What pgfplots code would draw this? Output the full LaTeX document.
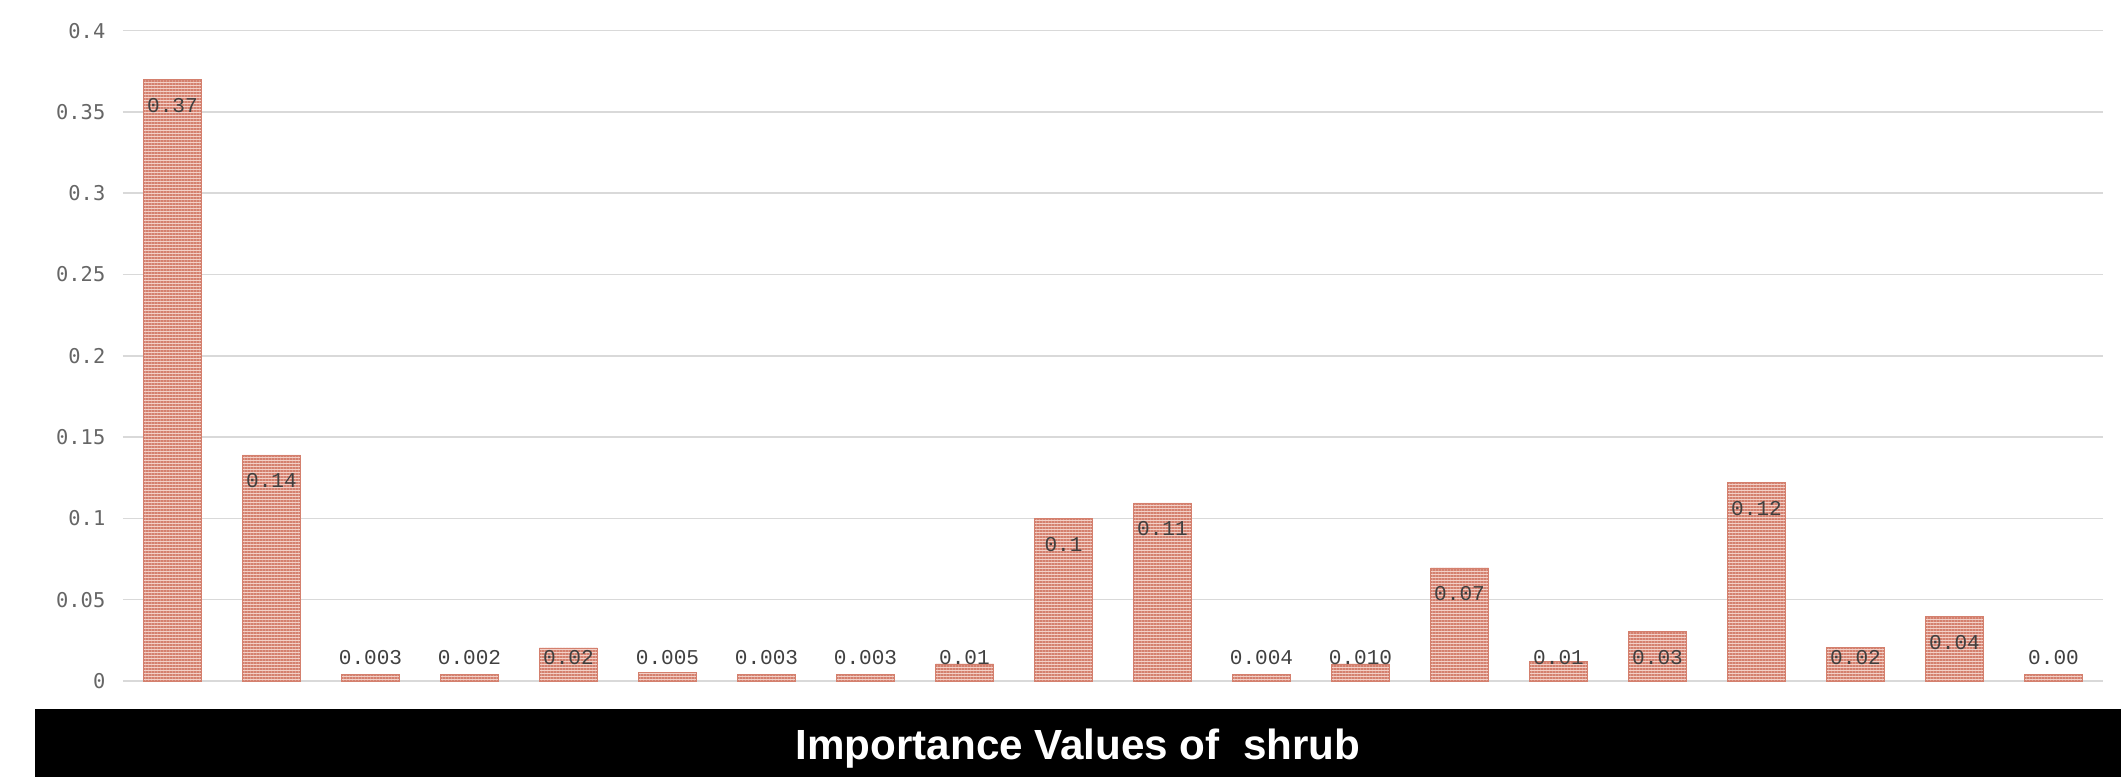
\documentclass[border=0pt]{standalone}
\usepackage{pgfplots}
\pgfplotsset{compat=1.18}
\usepackage{pgfplotstable}
\usetikzlibrary{patterns.meta}
\usepackage{fontspec}
\setmainfont{Liberation Sans}
\newfontfamily\tickfont{DejaVu Sans Mono}
\newfontfamily\labfont{Liberation Mono}

\definecolor{barline}{HTML}{D4806E}
\definecolor{barbg}{HTML}{F3D0C7}
\definecolor{gridgray}{HTML}{D9D9D9}
\definecolor{tickgray}{HTML}{666666}
\definecolor{labgray}{HTML}{404040}

% x, bar value, label y position, label text
\pgfplotstableread{
x  v      ly      lab
1  0.370  0.354   0.37
2  0.139  0.123   0.14
3  0.004  0.0143  0.003
4  0.004  0.0143  0.002
5  0.0203 0.0143  0.02
6  0.0055 0.0143  0.005
7  0.004  0.0143  0.003
8  0.004  0.0143  0.003
9  0.0105 0.0143  0.01
10 0.100  0.084   0.1
11 0.1095 0.0935  0.11
12 0.004  0.0143  0.004
13 0.0105 0.0143  0.010
14 0.0695 0.0535  0.07
15 0.012  0.0143  0.01
16 0.0303 0.0143  0.03
17 0.122  0.106   0.12
18 0.0205 0.0143  0.02
19 0.0395 0.0235  0.04
20 0.004  0.0143  0.00
}\shrub

\begin{document}
\begin{tikzpicture}
\path[use as bounding box] (-1.23,-0.96) rectangle (19.98,6.81);
\begin{axis}[
  at={(0,0)}, anchor=south west,
  scale only axis,
  width=19.8cm, height=6.504cm,
  xmin=0.5, xmax=20.5,
  ymin=0, ymax=0.4,
  axis line style={draw=none},
  xtick=\empty,
  ytick={0,0.05,0.1,0.15,0.2,0.25,0.3,0.35,0.4},
  yticklabels={0,0.05,0.1,0.15,0.2,0.25,0.3,0.35,0.4},
  major tick length=0pt,
  ymajorgrids,
  grid style={gridgray, line width=0.015cm},
  yticklabel style={inner sep=0pt, xshift=-0.17cm, text=tickgray,
    font=\tickfont\fontsize{5.8pt}{6pt}\selectfont},
  clip=false,
]
\addplot[ybar, bar width=0.58cm, draw=barline, line width=0.008cm,
  preaction={fill=barbg},
  pattern={Lines[angle=0, distance=0.03cm, line width=0.015cm]},
  pattern color=barline]
  table[x=x, y=v] {\shrub};
\addplot[draw=none, mark=none,
  nodes near coords, point meta=explicit symbolic,
  nodes near coords align={center},
  every node near coord/.append style={anchor=center, inner sep=0pt,
    text=labgray, font=\labfont\fontsize{6pt}{7pt}\selectfont}]
  table[x=x, y=ly, meta=lab] {\shrub};
\end{axis}
\fill[black] (-0.88,-0.96) rectangle (19.98,-0.28);
\node[anchor=base, text=white, inner sep=0pt,
  font=\bfseries\fontsize{12pt}{14pt}\selectfont]
  at (9.55,-0.79) {Importance Values of\ \ shrub};
\end{tikzpicture}
\end{document}
